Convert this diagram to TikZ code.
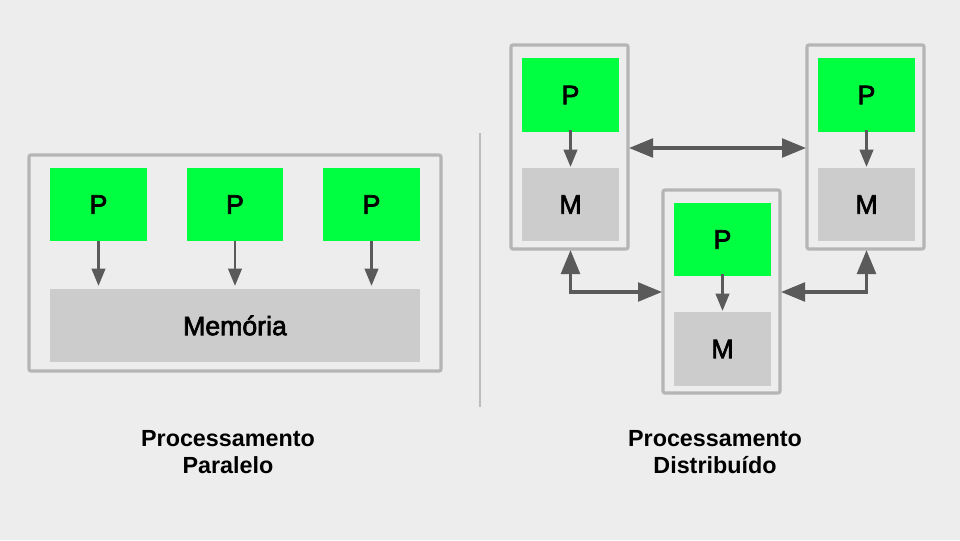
\documentclass[tikz,border=0pt]{standalone}
\usepackage{fontspec}
\setmainfont{Liberation Sans}
\newfontfamily\medfont{Liberation Sans}[FakeBold=2.5]
\usetikzlibrary{arrows.meta}
\definecolor{bg}{HTML}{EDEDED}
\definecolor{pgreen}{HTML}{00FF40}
\definecolor{mgray}{HTML}{CCCCCC}
\definecolor{frame}{HTML}{B5B5B5}
\definecolor{arr}{HTML}{5A5A5A}
\begin{document}
\begin{tikzpicture}[x=0.75pt,y=-0.75pt,
  outer/.style={draw=frame,line width=2.4pt,rounded corners=1.5pt},
  pbox/.style={fill=pgreen,font=\medfont\fontsize{20}{24}\selectfont},
  mbox/.style={fill=mgray,font=\medfont\fontsize{20}{24}\selectfont},
  small/.style={draw=arr,line width=2.2pt,-{Triangle[length=13pt,width=10pt]}},
  big/.style={draw=arr,line width=2.6pt,{Triangle[length=18pt,width=14pt]}-{Triangle[length=18pt,width=14pt]}},
  lbl/.style={font=\fontsize{17.5}{20}\selectfont\bfseries,align=center}]
\fill[bg] (0,0) rectangle (960,540);
\useasboundingbox (0,0) rectangle (960,540);
% left
\draw[outer] (29,155) rectangle (441,371);
\path[pbox] (50,168) rectangle (147,241) node[midway] (p1) {P};
\path[pbox] (187,168) rectangle (283,241) node[midway] (p2) {P};
\path[pbox] (323,168) rectangle (420,241) node[midway] (p3) {P};
\path[mbox] (50,289) rectangle (420,362) node[midway] (mem) {Memória};
\coordinate (p1b) at (98.5,241); \coordinate (m1t) at (98.5,286);
\coordinate (p2b) at (235,241); \coordinate (m2t) at (235,286);
\coordinate (p3b) at (371.5,241); \coordinate (m3t) at (371.5,286);
\draw[small] (p1b) -- (m1t);
\draw[small] (p2b) -- (m2t);
\draw[small] (p3b) -- (m3t);
% divider
\draw[draw=frame!90,line width=2pt] (480,133) -- (480,407);
% right boxes
\draw[outer] (511,45) rectangle (628,249);
\path[pbox] (522,58) rectangle (619,132) node[midway] (ap) {P};
\path[mbox] (522,168) rectangle (619,241) node[midway] (am) {M};
\draw[outer] (663,190) rectangle (780,393);
\path[pbox] (674,203) rectangle (771,276) node[midway] (bp) {P};
\path[mbox] (674,312) rectangle (771,386) node[midway] (bm) {M};
\draw[outer] (807,45) rectangle (924,249);
\path[pbox] (818,58) rectangle (915,132) node[midway] (cp) {P};
\path[mbox] (818,168) rectangle (915,241) node[midway] (cm) {M};
\draw[small] (570.5,130) -- (570.5,167);
\draw[small] (722.5,274) -- (722.5,311);
\draw[small] (866.5,130) -- (866.5,167);
% links
\coordinate (a1) at (629,148); \coordinate (c1) at (806,148);
\draw[big] (a1) -- (c1);
\coordinate (abot) at (570.5,250); \coordinate (bl) at (662,292);
\draw[big] (abot) |- (bl);
\coordinate (cbot) at (866.5,250); \coordinate (br) at (781,292);
\draw[big] (cbot) |- (br);
% labels
\node[lbl] (l1) at (228,452) {Processamento\\Paralelo};
\node[lbl] (l2) at (715,452) {Processamento\\Distribuído};
\end{tikzpicture}
\end{document}
